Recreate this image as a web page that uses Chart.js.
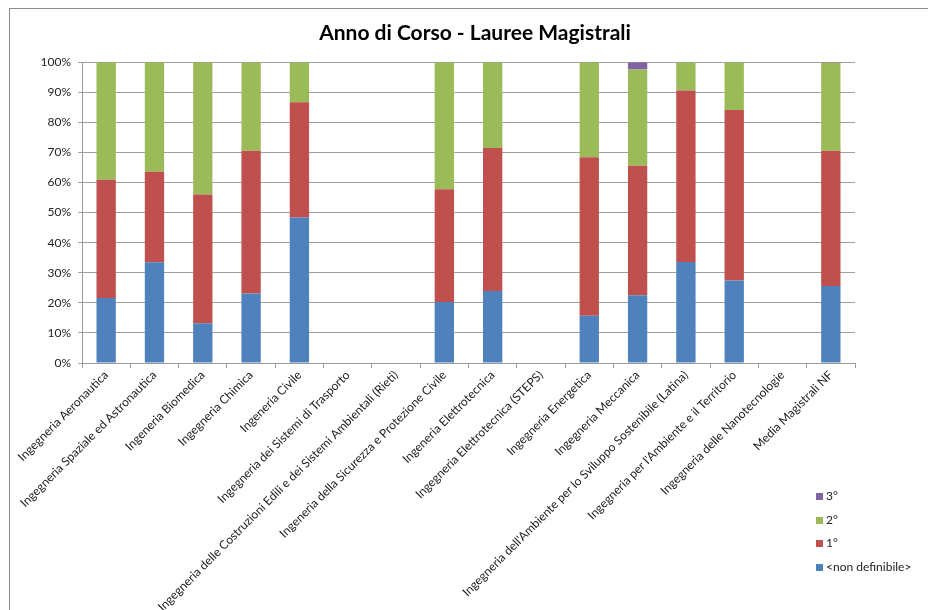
<!DOCTYPE html>
<html lang="it">
<head>
<meta charset="utf-8">
<title>Anno di Corso - Lauree Magistrali</title>
<script src="https://cdn.jsdelivr.net/npm/chart.js@4.4.1/dist/chart.umd.min.js"></script>
<style>
  html, body { margin: 0; padding: 0; background: #fff; overflow: hidden; width: 928px; height: 610px; }
  #frame {
    position: absolute; left: 9px; top: 8px; width: 930px; height: 620px;
    border-left: 1px solid #8c8c8c; border-top: 1px solid #8c8c8c; box-sizing: border-box;
  }
  #wrap { position: absolute; left: 0; top: 0; width: 930px; height: 620px; }
  #legend {
    position: absolute; left: 806px; top: 480px; font-family: Lato, "Liberation Sans", sans-serif;
    font-size: 12px; color: #222;
  }
  .item { position: absolute; left: 0; white-space: nowrap; line-height: 14px; }
  .sw { display: inline-block; width: 7px; height: 7px; margin-right: 3px; vertical-align: 0px; }
</style>
</head>
<body>
<div id="frame">
  <div id="wrap"><canvas id="chart"></canvas></div>
  <div id="legend"></div>
</div>
<script>
// Corsi di laurea magistrale
const categories = [
  "Ingegneria Aeronautica",
  "Ingegneria Spaziale ed Astronautica",
  "Ingeneria Biomedica",
  "Ingegneria Chimica",
  "Ingeneria Civile",
  "Ingegneria dei Sistemi di Trasporto",
  "Ingegneria delle Costruzioni Edili e dei Sistemi Ambientali (Rieti)",
  "Ingeneria della Sicurezza e Protezione Civile",
  "Ingeneria Elettrotecnica",
  "Ingegneria Elettrotecnica (STEPS)",
  "Ingegneria Energetica",
  "Ingegneria Meccanica",
  "Ingegneria dell'Ambiente per lo Sviluppo Sostenibile (Latina)",
  "Ingegneria per l'Ambiente e il Territorio",
  "Ingegneria delle Nanotecnologie",
  "Media Magistrali NF"
];

// Quota percentuale per anno di corso
const nonDefinibile = [21.6, 33.5, 13.2, 23.1, 48.4, null, null, 20.3, 23.9, null, 15.7, 22.5, 33.6, 27.4, null, 25.6];
const primoAnno     = [39.3, 30.1, 42.8, 47.5, 38.3, null, null, 37.5, 47.6, null, 52.7, 43.1, 57.0, 56.7, null, 45.0];
const secondoAnno   = [39.1, 36.4, 44.0, 29.4, 13.3, null, null, 42.2, 28.5, null, 31.6, 32.0,  9.4, 15.9, null, 29.2];
const terzoAnno     = [ 0.0,  0.0,  0.0,  0.0,  0.0, null, null,  0.0,  0.0, null,  0.0,  2.4,  0.0,  0.0, null,  0.2];

const yTicks = [0, 10, 20, 30, 40, 50, 60, 70, 80, 90, 100];

const seriesNames = ["<non definibile>", "1°", "2°", "3°"];
const seriesColors = ["#4F81BD", "#C0504D", "#9BBB59", "#8064A2"];
const seriesData = [nonDefinibile, primoAnno, secondoAnno, terzoAnno];

const FONT = 'Lato, "Liberation Sans", sans-serif';

const datasets = seriesData.map((d, i) => ({
  label: seriesNames[i],
  data: d,
  backgroundColor: seriesColors[i],
  borderWidth: 0,
  barPercentage: 0.4,
  categoryPercentage: 1.0
}));

new Chart(document.getElementById('chart'), {
  type: 'bar',
  data: { labels: categories, datasets },
  options: {
    responsive: true,
    maintainAspectRatio: false,
    animation: false,
    layout: { padding: 0 },
    plugins: {
      legend: { display: false },
      tooltip: { enabled: false },
      title: {
        display: true,
        text: 'Anno di Corso - Lauree Magistrali',
        color: '#000',
        font: { family: FONT, size: 21, weight: 'bold' },
        padding: { top: 12, bottom: 16 }
      }
    },
    scales: {
      x: {
        stacked: true,
        offset: true,
        grid: { display: true, drawOnChartArea: false, drawTicks: true, tickLength: 5, color: '#999', offset: true },
        border: { display: true, color: '#999' },
        ticks: {
          autoSkip: false, maxRotation: 45, minRotation: 45, padding: 0,
          color: '#222', font: { family: FONT, size: 12 }
        },
        afterFit: (s) => { s.height = 266; s.paddingLeft = 0; s.paddingRight = 0; }
      },
      y: {
        stacked: true,
        min: 0, max: 100,
        afterBuildTicks: (s) => { s.ticks = yTicks.map(v => ({ value: v })); },
        grid: { color: '#a0a0a0', tickLength: 4, drawTicks: true },
        border: { display: true, color: '#999' },
        ticks: {
          padding: 7, color: '#222', font: { family: FONT, size: 12 },
          callback: (v) => v + '%'
        },
        afterFit: (s) => { s.width = 72; }
      },
      // margine destro riservato alla legenda
      margin: {
        type: 'linear',
        position: 'right',
        display: true,
        grid: { display: false },
        border: { display: false },
        ticks: { display: false },
        afterFit: (s) => { s.width = 85; }
      }
    }
  }
});

// Legenda (ordine inverso: 3° in alto)
const legend = document.getElementById('legend');
const rowTops = [0, 24, 47, 71];
[3, 2, 1, 0].forEach((idx, r) => {
  const div = document.createElement('div');
  div.className = 'item';
  div.style.top = rowTops[r] + 'px';
  const sw = document.createElement('span');
  sw.className = 'sw';
  sw.style.background = seriesColors[idx];
  div.appendChild(sw);
  div.appendChild(document.createTextNode(seriesNames[idx]));
  legend.appendChild(div);
});
</script>
</body>
</html>
